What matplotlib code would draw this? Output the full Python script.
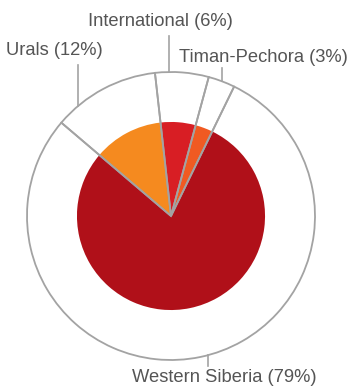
import matplotlib.pyplot as plt
import numpy as np

# production share by region
regions = ['Timan-Pechora', 'International', 'Urals', 'Western Siberia']
shares = [3, 6, 12, 79]
colors = ['#F05A22', '#D81E24', '#F58A1F', '#B01019']

# label text anchors and leader line x positions (unit = outer radius)
label_xy = [(0.64, 1.10), (-0.07, 1.35), (-0.81, 1.15), (0.37, -1.125)]
leader_x = [0.354, -0.014, -0.646, 0.257]
leader_top = [1.03, 1.25, 1.05, -1.045]

def main():
    fig = plt.figure(figsize=(3.5, 3.87), dpi=100)
    ax = fig.add_axes([0, 0, 1, 1])
    ax.set_aspect('equal')
    ax.axis('off')

    gray = '#A3A3A3'

    # filled inner pie
    ax.pie(shares, colors=colors, radius=0.653, startangle=64,
           counterclock=True, wedgeprops=dict(linewidth=0))
    # outer outline ring with radial separators
    ax.pie(shares, colors=['none'] * 4, radius=1.0, startangle=64,
           counterclock=True,
           wedgeprops=dict(edgecolor=gray, linewidth=1.3, zorder=5))
    ax.set_xlim(-171 / 144, 179 / 144)
    ax.set_ylim(-171 / 144, 216 / 144)

    for name, v, (tx, ty), lx, top in zip(regions, shares, label_xy, leader_x, leader_top):
        y0 = np.sqrt(1 - lx ** 2)
        if top < 0:
            y0 = -y0
        ax.plot([lx, lx], [y0, top], color=gray, lw=1.2)
        ax.text(tx, ty, '{} ({}%)'.format(name, v), ha='center', va='center',
                fontsize=13.2, color='#555555', family='Liberation Sans')

    fig.savefig('out.png', dpi=100)

main()
